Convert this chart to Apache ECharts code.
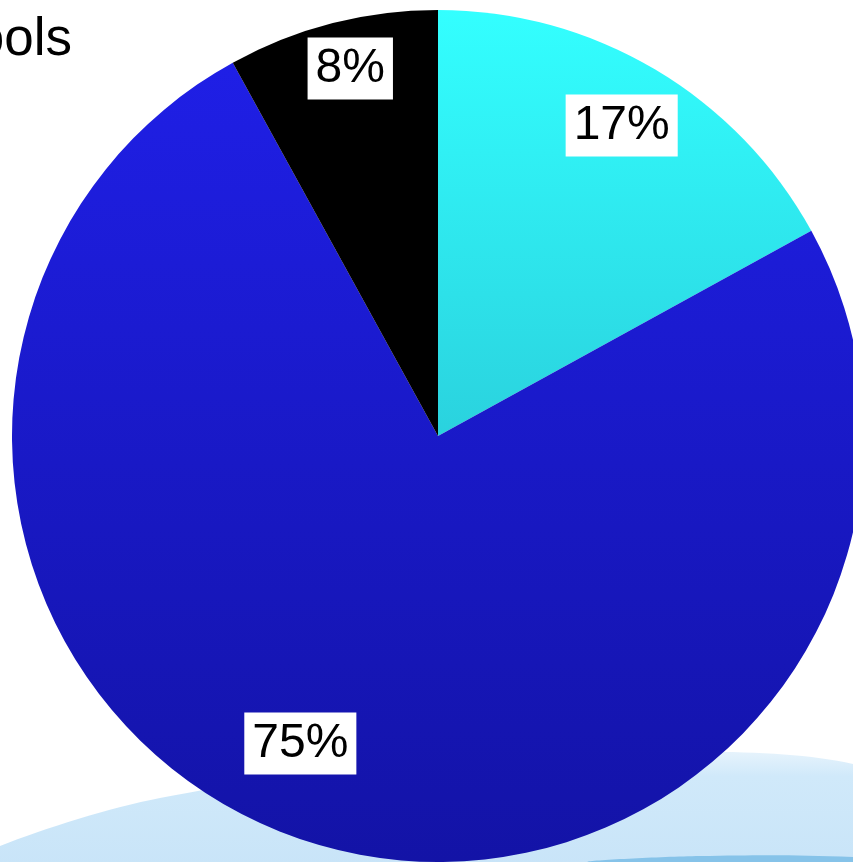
<!DOCTYPE html>
<html>
<head>
<meta charset="utf-8">
<style>
  html, body { margin: 0; padding: 0; background: #fff; }
  #chart { width: 853px; height: 862px; }
</style>
<script src="https://cdn.jsdelivr.net/npm/echarts@6/dist/echarts.min.js"></script>
</head>
<body>
<div id="chart"></div>
<script>
// slice names and shares
var categories = ["A", "B", "C"];
var shares = [17, 75, 8];
var titleText = "Schools";

var R = 426;
var center = [438, 436];

var sliceColors = [
    { type: "linear", x: 0, y: 0, x2: 0, y2: 1, colorStops: [
        { offset: 0, color: "#33ffff" }, { offset: 1, color: "#2ad2de" }] },
    { type: "linear", x: 0, y: 0, x2: 0, y2: 1, colorStops: [
        { offset: 0, color: "#1f1fe6" }, { offset: 1, color: "#1313a6" }] },
    "#000000"
];
// nudges for labels that do not sit on the slice's middle angle
var labelOffsets = [[0, 0], [-37, -39], [2, -18]];

var chart = echarts.init(document.getElementById("chart"));

var pieData = categories.map(function (c, i) {
    return { name: c, value: shares[i], itemStyle: { color: sliceColors[i] } };
});
var labelData = categories.map(function (c, i) {
    return { name: c, value: shares[i], label: { offset: labelOffsets[i] } };
});

chart.setOption({
    animation: false,
    graphic: [
        {
            type: "polygon",
            z: -10,
            shape: {
                points: [[0, 846], [160, 798], [420, 764], [853, 764], [853, 862], [0, 862]],
                smooth: 0.3
            },
            style: {
                fill: { type: "linear", x: 0, y: 0, x2: 0, y2: 1, colorStops: [
                    { offset: 0, color: "#e6f3fc" }, { offset: 0.2, color: "#d0e9fa" },
                    { offset: 1, color: "#c8e4f8" }] }
            }
        },
        {
            type: "polygon",
            z: -9,
            shape: {
                points: [[590, 862], [700, 856], [853, 857], [853, 862]],
                smooth: 0.4
            },
            style: { fill: "#86c3e9" }
        },
        {
            type: "text",
            x: 72,
            y: 40,
            style: {
                text: titleText,
                font: "53px 'Liberation Sans', Arial, sans-serif",
                fill: "#000",
                align: "right",
                verticalAlign: "middle"
            }
        }
    ],
    series: [
        {
            type: "pie",
            center: center,
            radius: [0, R],
            startAngle: 90,
            clockwise: true,
            silent: true,
            label: { show: false },
            labelLine: { show: false },
            data: pieData
        },
        {
            type: "pie",
            center: center,
            radius: [R * 0.68, R],
            startAngle: 90,
            clockwise: true,
            silent: true,
            itemStyle: { color: "rgba(0,0,0,0)" },
            label: {
                show: true,
                position: "inside",
                formatter: "{c}%",
                color: "#000",
                fontSize: 48,
                fontFamily: "'Liberation Sans', Arial, sans-serif",
                backgroundColor: "#fff",
                padding: [8, 8, 6, 8]
            },
            labelLine: { show: false },
            data: labelData
        }
    ]
});
</script>
</body>
</html>
